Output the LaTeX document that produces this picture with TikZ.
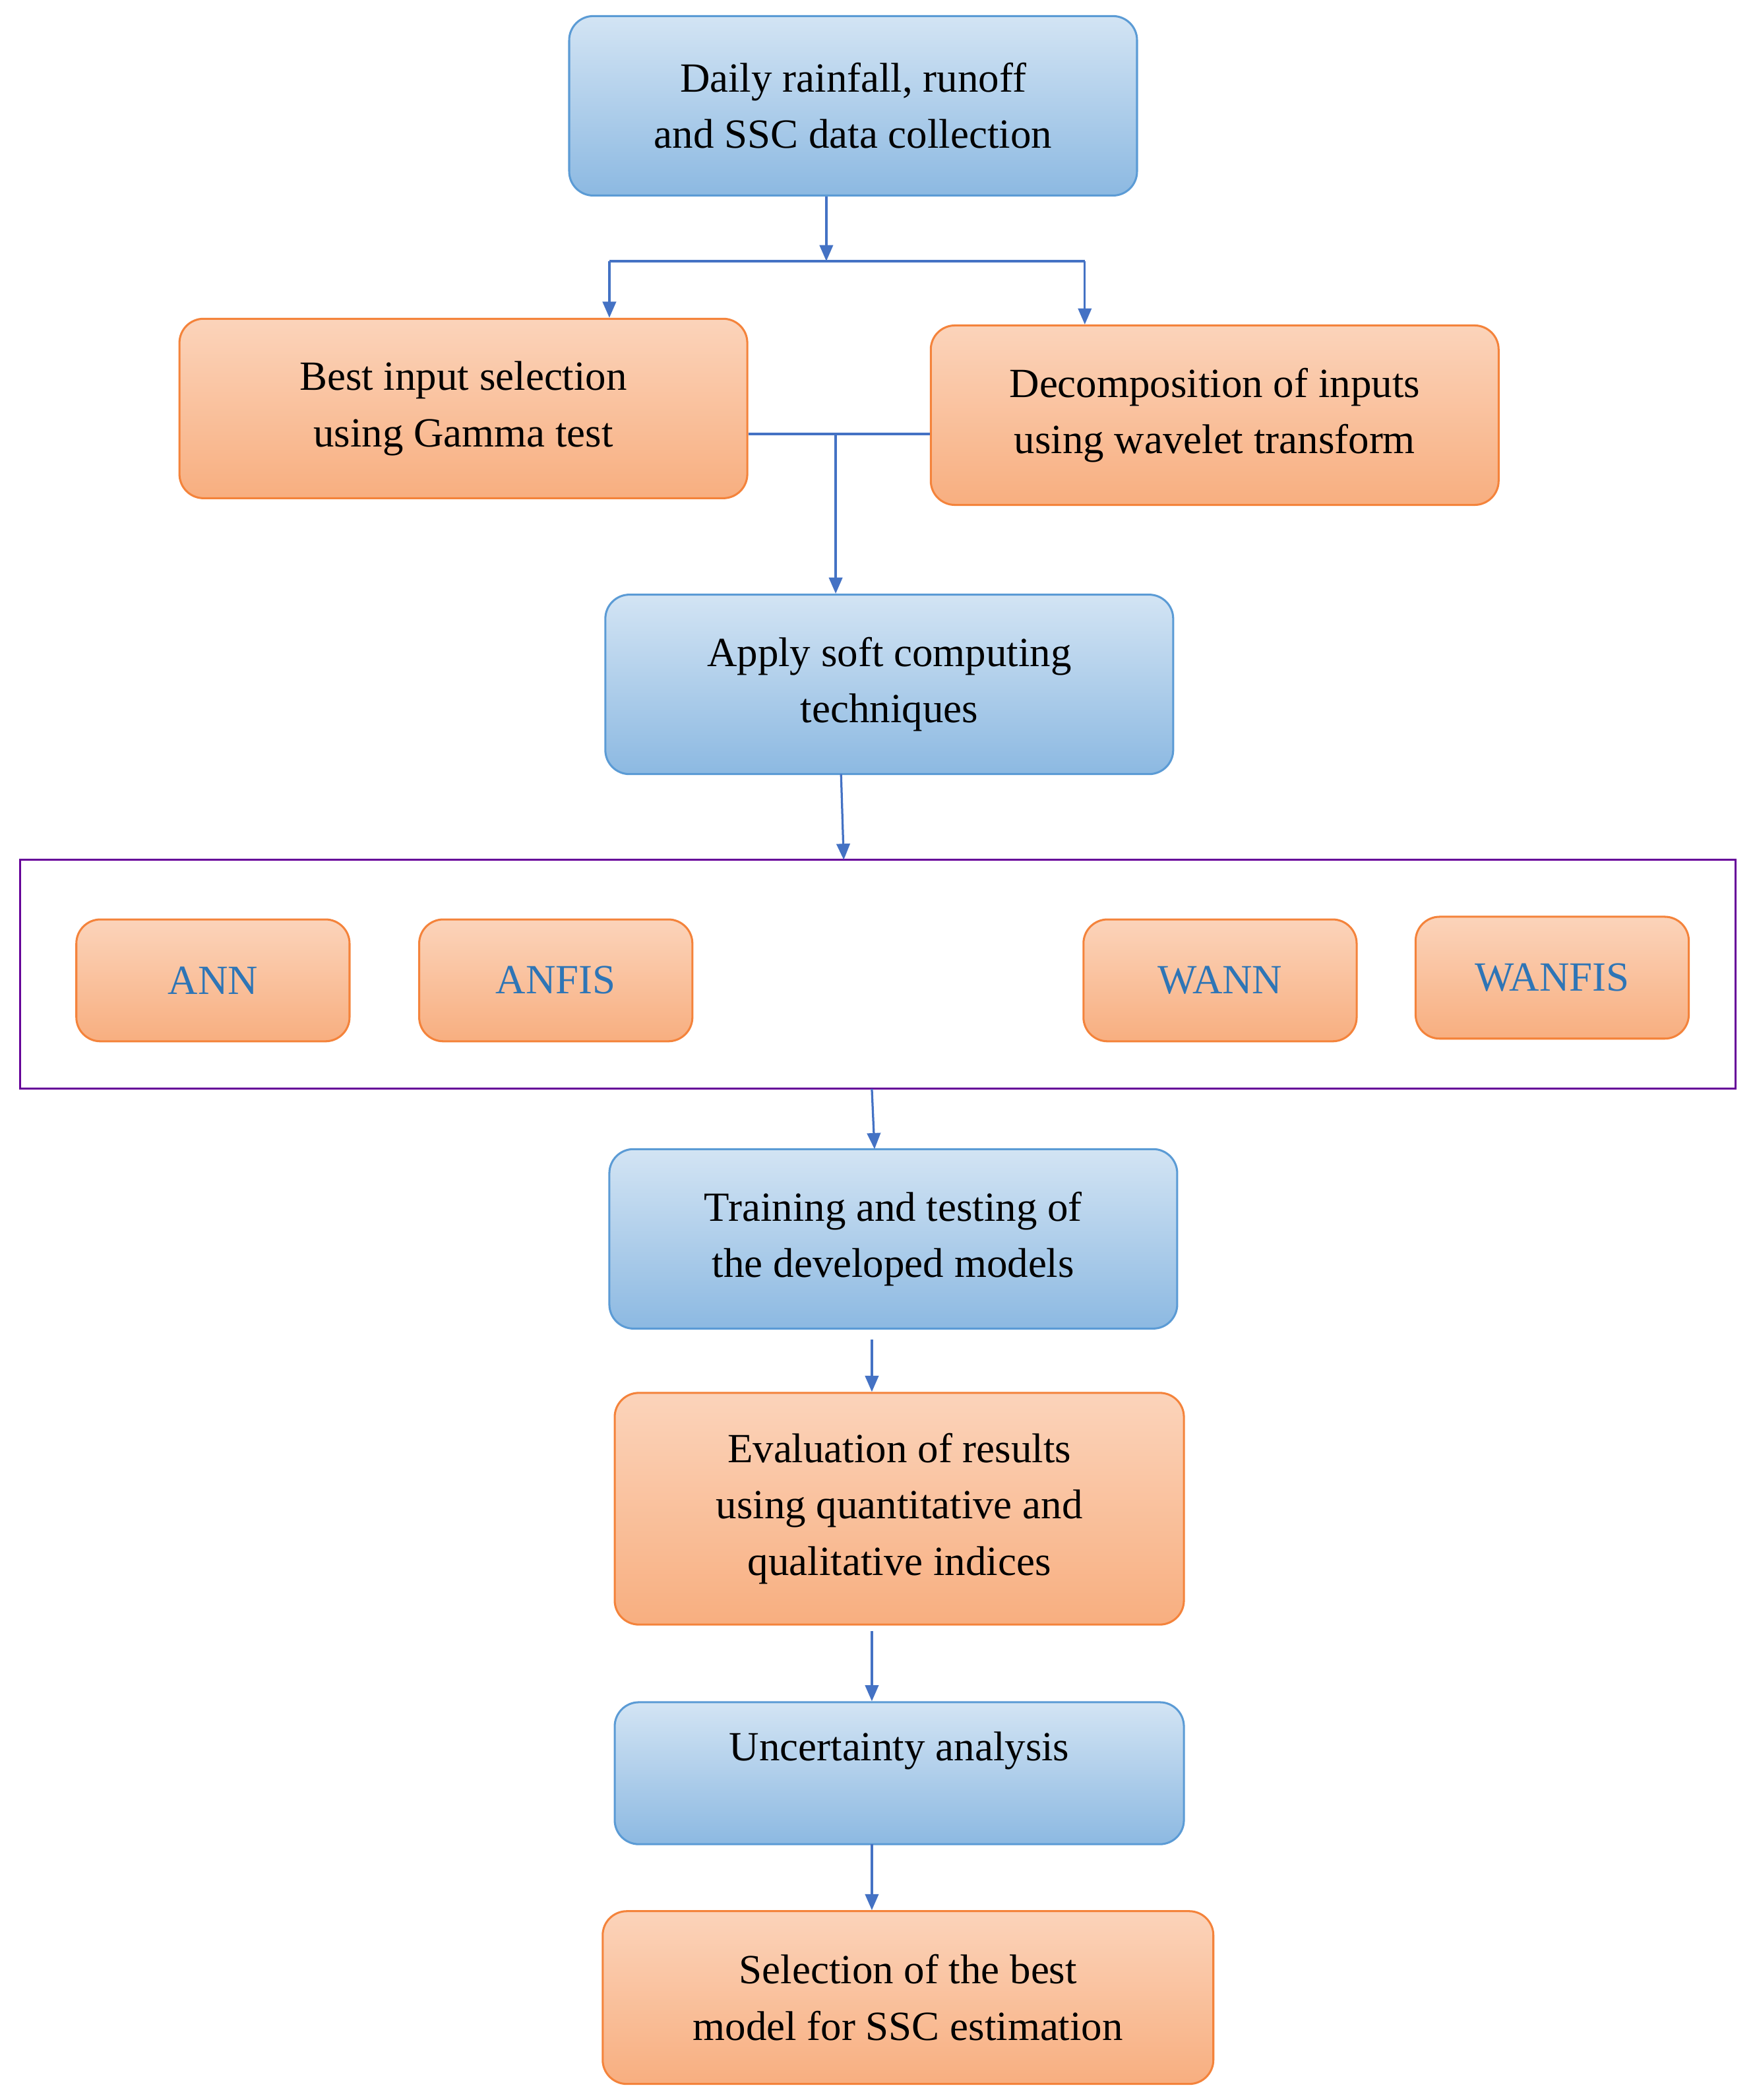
\documentclass[tikz,border=0pt]{standalone}
\usepackage{fontspec}
\setmainfont{Liberation Serif}
\usetikzlibrary{arrows.meta}
\definecolor{bb}{HTML}{5B9BD5}
\definecolor{ob}{HTML}{F4833B}
\definecolor{ar}{HTML}{4472C4}
\definecolor{tb}{HTML}{2E75B6}
\begin{document}
\begin{tikzpicture}[x=1pt,y=-1pt,
 box/.style={rounded corners=18pt,line width=1.5pt,align=center,inner sep=0pt,font=\fontsize{31}{42}\selectfont},
 blue/.style={box,draw=bb,top color=blue!0!white!40!bb!45!white,bottom color=bb!70!white},
 orng/.style={box,draw=ob,top color=ob!35!white,bottom color=ob!65!white},
 small/.style={orng,text=tb,font=\fontsize{31}{38}\selectfont},
 arr/.style={draw=ar,line width=1.6pt,-{Triangle[length=12pt,width=10pt]}},
 ln/.style={draw=ar,line width=1.6pt}]
\useasboundingbox (0,0) rectangle (1310,1568);
\fill[white] (0,0) rectangle (1310,1568);
\node[blue,minimum width=424pt,minimum height=134pt] (a) at (637,79) {Daily rainfall, runoff\\and SSC data collection};
\node[orng,minimum width=424pt,minimum height=134pt] (b) at (346,305) {Best input selection\\using Gamma test};
\node[orng,minimum width=424pt,minimum height=134pt] (c) at (907,310) {Decomposition of inputs\\using wavelet transform};
\node[blue,minimum width=424pt,minimum height=134pt] (d) at (664,511) {Apply soft computing\\techniques};
\node[draw=violet!80!blue,line width=1.5pt,minimum width=1281pt,minimum height=171pt,inner sep=0pt] (f) at (655.5,727.5) {};
\node[small,minimum width=204pt,minimum height=91pt] (g1) at (159,732) {ANN};
\node[small,minimum width=204pt,minimum height=91pt] (g2) at (415,732) {ANFIS};
\node[small,minimum width=204pt,minimum height=91pt] (g3) at (911,732) {WANN};
\node[small,minimum width=204pt,minimum height=91pt] (g4) at (1159,730) {WANFIS};
\node[blue,minimum width=424pt,minimum height=134pt] (e) at (667,925) {Training and testing of\\the developed models};
\node[orng,minimum width=425pt,minimum height=173pt] (h) at (671.5,1126.5) {Evaluation of results\\using quantitative and\\qualitative indices};
\node[blue,minimum width=425pt,minimum height=106pt,text depth=40pt] (i) at (671.5,1324) {Uncertainty analysis};
\node[orng,minimum width=456pt,minimum height=129pt] (j) at (678,1491.5) {Selection of the best\\model for SSC estimation};
\coordinate (s1) at (617,195);
\coordinate (l1) at (455,195);
\coordinate (r1) at (810,195);
\coordinate (m) at (624,324);
\draw[arr] (a.south -| s1) -- (s1);
\draw[ln] (l1) -- (r1);
\draw[arr] (l1) -- (l1 |- b.north);
\draw[arr] (r1) -- (r1 |- c.north);
\draw[ln] (b.east |- m) -- (c.west |- m);
\draw[arr] (m) -- (m |- d.north);
\draw[arr] (628,578) -- (630,642);
\draw[arr] (651,813) -- (653,858);
\coordinate (k) at (651,1000);
\draw[arr] (k) -- (k |- h.north);
\coordinate (k2) at (651,1218);
\draw[arr] (k2) -- (k2 |- i.north);
\coordinate (k3) at (651,1377);
\draw[arr] (k3) -- (k3 |- j.north);
\end{tikzpicture}
\end{document}
